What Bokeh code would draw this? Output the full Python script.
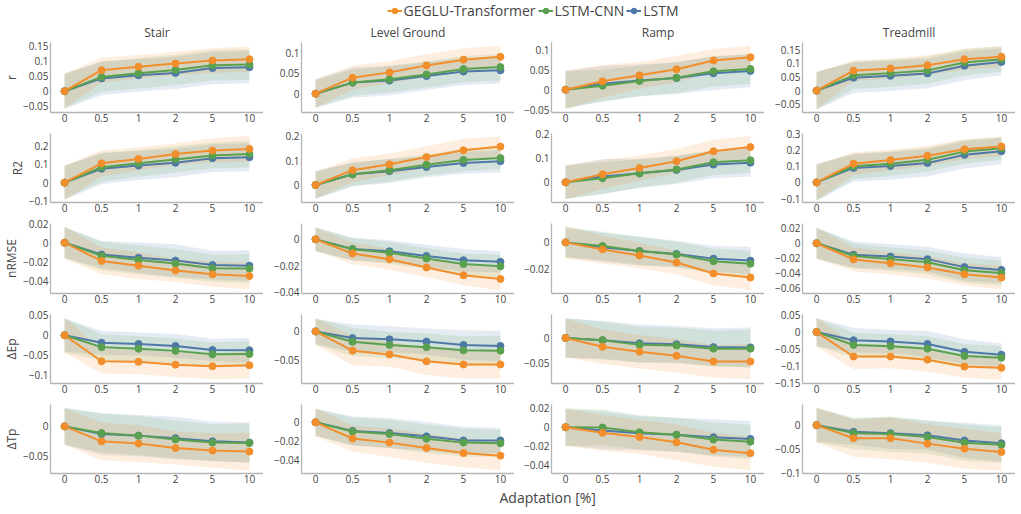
from bokeh.plotting import figure
from bokeh.layouts import column, row
from bokeh.models import Range1d, FixedTicker, CustomJSTickFormatter, Legend, LegendItem, Label
from bokeh.embed import file_html
from bokeh.resources import INLINE

# ---------------- data ----------------
adaptation = ["0", "0.5", "1", "2", "5", "10"]
terrains = ["Stair", "Level Ground", "Ramp", "Treadmill"]
metrics = ["r", "R2", "nRMSE", "ΔEp", "ΔTp"]
models = ["GEGLU-Transformer", "LSTM-CNN", "LSTM"]

# mean values: model -> [Stair, Level Ground, Ramp, Treadmill]
r_mean = {
    "GEGLU-Transformer": [[0, .069, .080, .091, .101, .105], [0, .039, .052, .069, .083, .090],
                          [0, .021, .036, .051, .073, .081], [0, .073, .081, .093, .115, .124]],
    "LSTM-CNN": [[0, .047, .059, .070, .085, .088], [0, .027, .035, .047, .060, .065],
                 [0, .010, .022, .030, .046, .052], [0, .056, .064, .074, .103, .115]],
    "LSTM": [[0, .042, .052, .060, .076, .079], [0, .027, .032, .043, .054, .057],
             [0, .015, .023, .029, .041, .047], [0, .047, .054, .063, .091, .105]],
}
r_sd = {
    "GEGLU-Transformer": [[.057, .041, .039, .039, .041, .042], [.035, .029, .027, .027, .028, .027],
                          [.048, .041, .033, .033, .029, .029], [.067, .038, .036, .036, .039, .038]],
    "LSTM-CNN": [[.056, .050, .050, .050, .050, .050], [.033, .032, .032, .032, .032, .032],
                 [.046, .040, .038, .038, .038, .037], [.068, .050, .050, .050, .048, .046]],
    "LSTM": [[.058, .055, .053, .053, .053, .053], [.035, .037, .036, .034, .033, .032],
             [.047, .044, .040, .040, .042, .041], [.069, .056, .055, .054, .053, .049]],
}
r2_mean = {
    "GEGLU-Transformer": [[0, .104, .128, .154, .173, .182], [0, .061, .085, .115, .143, .158],
                          [0, .033, .059, .087, .128, .145], [0, .115, .137, .163, .203, .221]],
    "LSTM-CNN": [[0, .083, .104, .125, .147, .154], [0, .044, .061, .083, .103, .111],
                 [0, .017, .037, .053, .083, .091], [0, .099, .115, .139, .189, .209]],
    "LSTM": [[0, .075, .092, .107, .132, .137], [0, .044, .057, .074, .091, .098],
             [0, .024, .037, .051, .073, .081], [0, .089, .101, .119, .169, .191]],
}
r2_sd = {
    "GEGLU-Transformer": [[.092, .071, .062, .059, .066, .069], [.054, .049, .045, .045, .047, .042],
                          [.070, .060, .052, .050, .047, .046], [.109, .070, .063, .062, .061, .059]],
    "LSTM-CNN": [[.090, .078, .072, .070, .070, .072], [.056, .048, .047, .044, .046, .045],
                 [.068, .066, .057, .055, .052, .053], [.110, .078, .076, .074, .073, .070]],
    "LSTM": [[.092, .084, .078, .076, .075, .076], [.058, .049, .049, .042, .045, .046],
             [.069, .071, .060, .058, .056, .057], [.113, .083, .085, .083, .084, .080]],
}
nrmse_mean = {
    "GEGLU-Transformer": [[0, -.0190, -.0240, -.0290, -.0330, -.0347], [0, -.0107, -.0150, -.0213, -.0272, -.0300],
                          [0, -.0054, -.0100, -.0154, -.0237, -.0268], [0, -.0219, -.0271, -.0327, -.0421, -.0465]],
    "LSTM-CNN": [[0, -.0137, -.0180, -.0217, -.0267, -.0270], [0, -.0075, -.0102, -.0145, -.0187, -.0204],
                 [0, -.0027, -.0066, -.0093, -.0144, -.0163], [0, -.0172, -.0215, -.0258, -.0366, -.0404]],
    "LSTM": [[0, -.0123, -.0157, -.0187, -.0233, -.0240], [0, -.0073, -.0090, -.0126, -.0158, -.0170],
             [0, -.0037, -.0066, -.0088, -.0124, -.0139], [0, -.0155, -.0181, -.0215, -.0323, -.0361]],
}
nrmse_sd = {
    "GEGLU-Transformer": [[.017, .014, .014, .012, .013, .014], [.0085, .0082, .008, .0073, .0075, .0088],
                          [.0124, .0107, .0098, .0092, .009, .0095], [.0206, .016, .0151, .015, .0151, .0163]],
    "LSTM-CNN": [[.016, .015, .015, .015, .014, .015], [.009, .0085, .0082, .008, .008, .0085],
                 [.0118, .011, .0105, .0097, .0095, .010], [.021, .017, .016, .016, .017, .017]],
    "LSTM": [[.016, .014, .016, .017, .015, .016], [.009, .0085, .0083, .0085, .0085, .008],
             [.011, .011, .011, .010, .0097, .0105], [.021, .0177, .0168, .0168, .0183, .0176]],
}
dep_mean = {
    "GEGLU-Transformer": [[0, -.0652, -.0667, -.0738, -.0777, -.0754], [0, -.0339, -.0406, -.0528, -.0583, -.0583],
                          [0, -.0177, -.0278, -.0361, -.0475, -.0475], [0, -.0722, -.0722, -.0815, -.1019, -.1056]],
    "LSTM-CNN": [[0, -.0298, -.0338, -.0392, -.0479, -.0471], [0, -.0183, -.0239, -.0278, -.0333, -.0339],
                 [0, -.0044, -.0139, -.0152, -.0215, -.0215], [0, -.0380, -.0417, -.0491, -.0704, -.0759]],
    "LSTM": [[0, -.0188, -.0220, -.0267, -.0369, -.0377], [0, -.0117, -.0139, -.0178, -.0239, -.0256],
             [0, -.0044, -.0108, -.0127, -.0184, -.0190], [0, -.0241, -.0278, -.0352, -.0583, -.0667]],
}
dep_sd = {
    "GEGLU-Transformer": [[.044, .031, .031, .031, .032, .034], [.024, .026, .022, .024, .025, .025],
                          [.039, .035, .034, .034, .033, .036], [.043, .037, .035, .036, .033, .035]],
    "LSTM-CNN": [[.044, .032, .031, .031, .030, .032], [.023, .025, .023, .024, .025, .026],
                 [.040, .037, .036, .036, .036, .038], [.042, .037, .035, .037, .035, .034]],
    "LSTM": [[.041, .030, .029, .030, .028, .031], [.022, .024, .023, .023, .026, .027],
             [.040, .039, .038, .037, .038, .040], [.041, .037, .034, .039, .037, .033]],
}
dtp_mean = {
    "GEGLU-Transformer": [[0, -.0253, -.0290, -.0366, -.0409, -.0425], [0, -.0170, -.0213, -.0270, -.0323, -.0350],
                          [0, -.0060, -.0104, -.0160, -.0238, -.0275], [0, -.0273, -.0273, -.0387, -.0493, -.0560]],
    "LSTM-CNN": [[0, -.0113, -.0156, -.0220, -.0274, -.0280], [0, -.0097, -.0123, -.0173, -.0213, -.0220],
                 [0, -.0003, -.0054, -.0080, -.0131, -.0154], [0, -.0167, -.0187, -.0247, -.0367, -.0413]],
    "LSTM": [[0, -.0129, -.0156, -.0199, -.0253, -.0274], [0, -.0090, -.0113, -.0147, -.0190, -.0190],
             [0, -.0034, -.0064, -.0080, -.0107, -.0124], [0, -.0140, -.0167, -.0213, -.0320, -.0380]],
}
dtp_sd = {
    "GEGLU-Transformer": [[.030, .032, .031, .028, .029, .032], [.015, .0137, .015, .0153, .015, .0153],
                          [.020, .019, .018, .019, .018, .018], [.037, .039, .044, .040, .042, .039]],
    "LSTM-CNN": [[.031, .033, .033, .032, .031, .033], [.014, .0145, .015, .015, .0145, .014],
                 [.020, .019, .018, .018, .018, .018], [.036, .033, .037, .035, .038, .037]],
    "LSTM": [[.031, .035, .035, .036, .033, .034], [.014, .0153, .0156, .015, .0143, .0133],
             [.019, .020, .018, .018, .019, .019], [.035, .027, .033, .030, .037, .038]],
}

# y-axis ranges and tick values per metric (Stair, Level Ground, Ramp, Treadmill)
y_ranges = {
    "r": [(-.07, .16), (-.046, .125), (-.057, .118), (-.08, .176)],
    "R2": [(-.107, .265), (-.072, .212), (-.083, .201), (-.123, .30)],
    "nRMSE": [(-.053, .02), (-.041, .012), (-.039, .0144), (-.068, .0267)],
    "ΔEp": [(-.121, .052), (-.092, .03), (-.092, .0475), (-.152, .052)],
    "ΔTp": [(-.0796, .037), (-.0537, .0187), (-.049, .024), (-.1013, .0433)],
}
y_ticks = {
    "r": [[-.05, 0, .05, .1, .15], [0, .05, .1], [-.05, 0, .05, .1], [-.05, 0, .05, .1, .15]],
    "R2": [[-.1, 0, .1, .2], [0, .1, .2], [0, .1, .2], [-.1, 0, .1, .2, .3]],
    "nRMSE": [[-.04, -.02, 0, .02], [-.04, -.02, 0], [-.02, 0], [-.06, -.04, -.02, 0, .02]],
    "ΔEp": [[-.1, -.05, 0, .05], [-.05, 0], [-.05, 0], [-.15, -.1, -.05, 0, .05]],
    "ΔTp": [[-.05, 0], [-.04, -.02, 0], [-.04, -.02, 0, .02], [-.1, -.05, 0]],
}

means = {"r": r_mean, "R2": r2_mean, "nRMSE": nrmse_mean, "ΔEp": dep_mean, "ΔTp": dtp_mean}
sds = {"r": r_sd, "R2": r2_sd, "nRMSE": nrmse_sd, "ΔEp": dep_sd, "ΔTp": dtp_sd}

# ---------------- style ----------------
FONT = "Open Sans"
TXT = "#444444"
AXC = "#b4b4b4"
colors = {"GEGLU-Transformer": "#F28E2B", "LSTM-CNN": "#59A14F", "LSTM": "#4E79A7"}
draw_order = ["LSTM", "LSTM-CNN", "GEGLU-Transformer"]

col_width = [263, 251, 250, 251]
col_left = [50, 38, 37, 38]
row_frame = [73, 69, 70, 69, 69]
row_top = [19, 7, 7, 7, 7]
BOT = 14

yfmt = CustomJSTickFormatter(code="""
const v = parseFloat(Math.abs(tick).toFixed(4));
return (tick < 0 ? '\\u2212' : '') + v.toString();
""")

xpos = list(range(len(adaptation)))
x_over = {i: lab for i, lab in enumerate(adaptation)}


def make_panel(mi, ti):
    metric = metrics[mi]
    top = row_top[mi]
    lo, hi = y_ranges[metric][ti]
    p = figure(width=col_width[ti], height=top + row_frame[mi] + BOT,
               min_border_left=col_left[ti], min_border_right=0,
               min_border_top=top, min_border_bottom=BOT,
               x_range=Range1d(-0.38, 5.38), y_range=Range1d(lo, hi),
               output_backend="svg", toolbar_location=None, tools="")
    p.outline_line_color = None
    p.xgrid.grid_line_color = None
    p.ygrid.grid_line_color = None
    p.background_fill_color = "white"
    p.border_fill_color = "white"
    for ax in (p.xaxis[0], p.yaxis[0]):
        ax.axis_line_color = AXC
        ax.axis_line_width = 1.3
        ax.major_tick_line_color = None
        ax.minor_tick_line_color = None
        ax.major_tick_out = 0
        ax.major_tick_in = 0
        ax.minor_tick_out = 0
        ax.minor_tick_in = 0
        ax.major_label_text_font = FONT
        ax.major_label_text_font_size = "10px"
        ax.major_label_text_color = TXT
    p.xaxis.major_label_standoff = 1
    p.yaxis.major_label_standoff = 2
    p.xaxis.ticker = FixedTicker(ticks=xpos)
    p.xaxis.major_label_overrides = x_over
    p.yaxis.ticker = FixedTicker(ticks=y_ticks[metric][ti])
    p.yaxis.formatter = yfmt
    if ti == 0:
        p.yaxis.axis_label = metric
        p.yaxis.axis_label_text_font = FONT
        p.yaxis.axis_label_text_font_size = "12px"
        p.yaxis.axis_label_text_font_style = "normal"
        p.yaxis.axis_label_text_color = TXT
        p.yaxis.axis_label_text_line_height = 1.0
        p.yaxis.axis_label_standoff = 0
    if mi == 0:
        p.title.text = terrains[ti]
        p.title.align = "center"
        p.title.text_font = FONT
        p.title.text_font_size = "12px"
        p.title.text_font_style = "normal"
        p.title.text_color = TXT
        p.title.standoff = 3
    m = means[metric]
    s = sds[metric]
    for name in draw_order:
        mv = m[name][ti]
        sv = s[name][ti]
        p.varea(x=xpos, y1=[a - b for a, b in zip(mv, sv)], y2=[a + b for a, b in zip(mv, sv)],
                fill_color=colors[name], fill_alpha=0.15)
    for name in draw_order:
        mv = m[name][ti]
        p.line(xpos, mv, line_color=colors[name], line_width=2)
        p.scatter(xpos, mv, size=7, fill_color=colors[name], line_color=colors[name])
    return p


rows = []
for mi in range(len(metrics)):
    rows.append(row(*[make_panel(mi, ti) for ti in range(len(terrains))]))

# legend header
leg = figure(width=1015, height=20, min_border_left=50, min_border_right=0,
             min_border_top=0, min_border_bottom=0,
             x_range=Range1d(0, 1), y_range=Range1d(0, 1),
             x_axis_location=None, y_axis_location=None,
             output_backend="svg", toolbar_location=None, tools="")
leg.outline_line_color = None
leg.xgrid.grid_line_color = None
leg.ygrid.grid_line_color = None
items = []
for name in models:
    lr = leg.line([-5, -4], [-5, -4], line_color=colors[name], line_width=2)
    sr = leg.scatter([-5], [-5], size=7, fill_color=colors[name], line_color=colors[name])
    items.append(LegendItem(label=name, renderers=[lr, sr]))
legend = Legend(items=items, orientation="horizontal", location="center",
                label_text_font=FONT, label_text_font_size="14px", label_text_color=TXT,
                glyph_width=15, glyph_height=14, label_standoff=2, spacing=2,
                padding=0, margin=0, border_line_color=None, background_fill_alpha=0)
leg.add_layout(legend, "center")

# x axis title
xl = figure(width=1015, height=27, min_border_left=0, min_border_right=0,
            min_border_top=0, min_border_bottom=0,
            x_range=Range1d(0, 1015), y_range=Range1d(0, 27),
            x_axis_location=None, y_axis_location=None,
            output_backend="svg", toolbar_location=None, tools="")
xl.outline_line_color = None
xl.xgrid.grid_line_color = None
xl.ygrid.grid_line_color = None
xl.add_layout(Label(x=523, y=17, text="Adaptation [%]", text_font=FONT, text_font_size="14px",
                    text_color=TXT, text_align="center", text_baseline="middle"))

layout = column(leg, *rows, xl)
open("out.html", "w").write(file_html(layout, INLINE))
